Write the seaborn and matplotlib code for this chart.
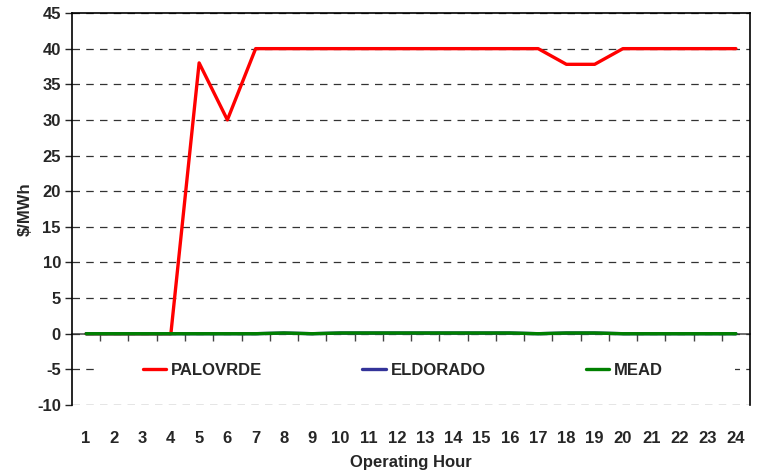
import pandas as pd
import matplotlib
matplotlib.use("Agg")
import matplotlib.pyplot as plt
import matplotlib.patches as mpatches
import seaborn as sns

# hourly prices, $/MWh
hours = list(range(1, 25))
palovrde = [0, 0, 0, 0, 38, 30, 40, 40, 40, 40, 40, 40,
            40, 40, 40, 40, 40, 37.8, 37.8, 40, 40, 40, 40, 40]
eldorado = [0, 0, 0, 0, 0, 0, 0, 0.1, 0, 0.1, 0.1, 0.1,
            0.1, 0.1, 0.1, 0.1, 0, 0.1, 0.1, 0, 0, 0, 0, 0]
mead = [0, 0, 0, 0, 0, 0, 0, 0.1, 0, 0.1, 0.1, 0.1,
        0.1, 0.1, 0.1, 0.1, 0, 0.1, 0.1, 0, 0, 0, 0, 0]
series_names = ["PALOVRDE", "ELDORADO", "MEAD"]
colors = ["#FF0000", "#333399", "#008000"]

df = pd.DataFrame({
    "hour": hours * 3,
    "price": palovrde + eldorado + mead,
    "node": [n for n in series_names for _ in hours],
})

sns.set_style("white")
plt.rcParams["font.family"] = ["Liberation Sans", "DejaVu Sans"]
plt.rcParams["font.weight"] = "bold"
plt.rcParams["axes.unicode_minus"] = False

fig = plt.figure(figsize=(7.57, 4.73), dpi=100)
ax = fig.add_axes([0.0951, 0.1438, 0.8957, 0.8287])

sns.lineplot(data=df, x="hour", y="price", hue="node", hue_order=series_names,
             palette=colors, linewidth=2.4, ax=ax, legend=True, zorder=3)

ax.set_xlim(0.5, 24.5)
ax.set_ylim(-10, 45)
ax.set_yticks(range(-10, 46, 5))
ax.set_xticks(hours)
ax.tick_params(axis="x", length=0, labelsize=12, pad=19)
ax.tick_params(axis="y", length=5, width=1, labelsize=12, left=True, direction="out", pad=3)

# dashed grid
ax.yaxis.grid(True, linestyle=(0, (6, 5)), color="#333333", linewidth=0.9)
ax.set_axisbelow(True)

for side in ["top", "right", "left"]:
    ax.spines[side].set_color("black")
    ax.spines[side].set_linewidth(1.2)
ax.spines["bottom"].set_visible(False)

# category axis crossing at zero
zero_frac = (0 - (-10)) / 55
sec = ax.secondary_xaxis(zero_frac)
sec.set_xticks([h + 0.5 for h in hours[:-1]])
sec.tick_params(axis="x", length=5, width=1, labelbottom=False, labeltop=False,
                direction="out", color="#444444")
sec.spines["bottom"].set_color("#555555")
sec.spines["bottom"].set_linewidth(1.2)
sec.set_xlabel("")

ax.set_xlabel("Operating Hour", fontsize=12, fontweight="bold", labelpad=6)
ax.set_ylabel("\\$/MWh", fontsize=12, fontweight="bold", labelpad=3)

# white legend area hiding the gridline behind it
ax.add_patch(mpatches.Rectangle((0.037, 0.064), 0.941, 0.052, transform=ax.transAxes,
                                facecolor="white", edgecolor="none", zorder=1.5))

leg = ax.legend(loc="center", bbox_to_anchor=(0.488, 0.089), ncol=3, frameon=False,
                fontsize=12, handlelength=1.4, handletextpad=0.3, columnspacing=6.0)
for line in leg.get_lines():
    line.set_linewidth(2.4)

fig.savefig("out.png", dpi=100)
